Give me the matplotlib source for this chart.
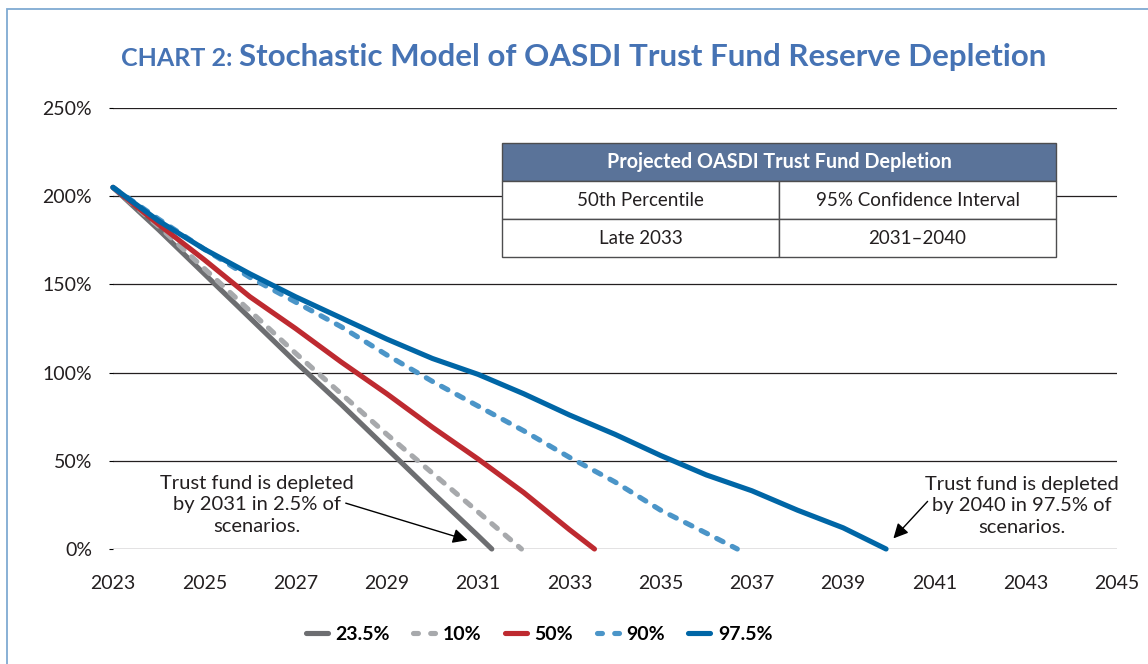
import matplotlib
matplotlib.use("Agg")
import matplotlib.pyplot as plt
import matplotlib.patches as mpatches
from matplotlib.lines import Line2D

# percentile paths of the trust fund ratio (percent)
p025_x = [2023, 2024, 2025, 2026, 2027, 2028, 2029, 2030, 2031, 2031.3]
p025_y = [205, 181, 156, 131, 106, 82, 57, 32, 7.5, 0]

p10_x = [2023, 2024, 2025, 2026, 2027, 2028, 2029, 2030, 2031, 2031.95]
p10_y = [205, 183, 159, 135, 111, 88, 65, 43, 21, 0]

p50_x = [2023, 2024, 2025, 2026, 2027, 2028, 2029, 2030, 2031, 2032, 2033, 2033.55]
p50_y = [205, 184, 164, 143, 125, 106, 88, 69, 51, 32, 11, 0]

p90_x = [2023, 2024, 2025, 2026, 2027, 2028, 2029, 2030, 2031, 2032, 2033, 2034,
         2035, 2036, 2036.68]
p90_y = [205, 187, 170, 154, 140, 126, 110, 95, 81, 67, 52, 38, 22, 9, 0]

p975_x = [2023, 2024, 2025, 2026, 2027, 2028, 2029, 2030, 2031, 2032, 2033, 2034,
          2035, 2036, 2037, 2038, 2039, 2039.94]
p975_y = [205, 186, 170, 156, 143, 131, 119, 108, 99, 88, 76, 65, 53, 42, 33, 22,
          12, 0]

legend_labels = ["23.5%", "10%", "50%", "90%", "97.5%"]
xticks = list(range(2023, 2046, 2))
yticks = [0, 50, 100, 150, 200, 250]

table_title = "Projected OASDI Trust Fund Depletion"
table_rows = [["50th Percentile", "95% Confidence Interval"],
              ["Late 2033", "2031\u20132040"]]

note_low = "Trust fund is depleted\nby 2031 in 2.5% of\nscenarios."
note_high = "Trust fund is depleted\nby 2040 in 97.5% of\nscenarios."

FONT = "Lato"
plt.rcParams["font.family"] = [FONT, "DejaVu Sans"]

W, H = 1148, 664
fig = plt.figure(figsize=(W / 100, H / 100), dpi=100)
fig.subplots_adjust(left=113 / W, right=1117 / W, bottom=1 - 549 / H, top=1 - 108 / H)
ax = fig.add_subplot(111)

lw = 3.7
series = [
    (p025_x, p025_y, "#6d6e71", "-"),
    (p10_x, p10_y, "#a7a9ac", (0, (1.4, 2.0))),
    (p50_x, p50_y, "#be2a30", "-"),
    (p90_x, p90_y, "#4b95c8", (0, (1.4, 2.0))),
    (p975_x, p975_y, "#0066a6", "-"),
]
handles = []
for (xs, ys, c, ls), lab in zip(series, legend_labels):
    ax.plot(xs, ys, color=c, lw=lw, linestyle=ls, solid_capstyle="round",
            dash_capstyle="round", solid_joinstyle="round", zorder=3, clip_on=False)
    handles.append(Line2D([], [], color=c, lw=lw, linestyle=ls if ls == "-" else (0, (0.96, 2.39)),
                          solid_capstyle="round", dash_capstyle="round", label=lab))

ax.set_xlim(2023, 2045)
ax.set_ylim(0, 250)
ax.set_xticks(xticks)
ax.set_yticks(yticks)
ax.set_yticklabels(["%d%%" % v for v in yticks])
ax.tick_params(axis="x", length=0, pad=19, labelsize=14, labelcolor="#231f20")
ax.tick_params(axis="y", length=3, width=0.8, pad=12, labelsize=14, labelcolor="#231f20")
for s in ax.spines.values():
    s.set_visible(False)
ax.grid(axis="y", color="#231f20", lw=0.9)
ax.set_axisbelow(True)

# summary table
tx0, tx1 = (502 - 113) / 1004, (1056 - 113) / 1004
ty = [(549 - 143) / 441, (549 - 181) / 441, (549 - 219) / 441, (549 - 257) / 441]
xm = (tx0 + tx1) / 2
edge = "#4d4d4f"
ax.add_patch(mpatches.Rectangle((tx0, ty[1]), tx1 - tx0, ty[0] - ty[1], transform=ax.transAxes,
                                facecolor="#5a7399", edgecolor=edge, lw=1, zorder=4))
for i in (1, 2):
    for j, (a, b) in enumerate([(tx0, xm), (xm, tx1)]):
        ax.add_patch(mpatches.Rectangle((a, ty[i + 1]), b - a, ty[i] - ty[i + 1],
                                        transform=ax.transAxes, facecolor="white",
                                        edgecolor=edge, lw=1, zorder=4))
        ax.text((a + b) / 2, (ty[i] + ty[i + 1]) / 2, table_rows[i - 1][j],
                transform=ax.transAxes, ha="center", va="center", fontsize=13.5,
                color="#231f20", zorder=5)
ax.text(xm, (ty[0] + ty[1]) / 2, table_title, transform=ax.transAxes, ha="center",
        va="center", fontsize=14.2, fontweight="bold", color="white", zorder=5)

# callouts
ax.text(2026.15, 25, note_low, ha="center", va="center", fontsize=14.5,
        linespacing=1.32, color="#231f20")
ax.annotate("", xy=(2030.77, 5), xytext=(2028.1, 26),
            arrowprops=dict(arrowstyle="-|>", color="black", lw=1, mutation_scale=22,
                            shrinkA=0, shrinkB=0))
ax.text(2042.92, 24.5, note_high, ha="center", va="center", fontsize=14.5,
        linespacing=1.32, color="#231f20")
ax.annotate("", xy=(2040.1, 6), xytext=(2040.85, 27),
            arrowprops=dict(arrowstyle="-|>", color="black", lw=1, mutation_scale=22,
                            shrinkA=0, shrinkB=0))

fig.legend(handles=handles, loc="center", bbox_to_anchor=(539 / W, 1 - 634 / H), ncol=5,
           frameon=False, handlelength=1.13, handletextpad=0.39, columnspacing=1.21,
           prop={"family": FONT, "weight": "bold", "size": 14})

# title: small "CHART 2:" followed by the main title
tcol = "#4673b4"
ty_fig = 1 - 66 / H
t1 = fig.text(0, ty_fig, "CHART 2: ", fontsize=18, fontweight="bold", color=tcol, va="baseline")
t2 = fig.text(0, ty_fig, "Stochastic Model of OASDI Trust Fund Reserve Depletion",
              fontsize=22.5, fontweight="bold", color=tcol, va="baseline")
fig.canvas.draw()
r = fig.canvas.get_renderer()
w1 = t1.get_window_extent(r).width
w2 = t2.get_window_extent(r).width
start = 583.5 - (w1 + w2) / 2
t1.set_x(start / W)
t2.set_x((start + w1) / W)

# outer frame
fig.patches.append(mpatches.Rectangle((7 / W, -0.1), 1.2, 1 - 9 / H + 0.1, transform=fig.transFigure,
                                      fill=False, edgecolor="#7faad2", lw=1.3))

fig.savefig("out.png", dpi=100)
